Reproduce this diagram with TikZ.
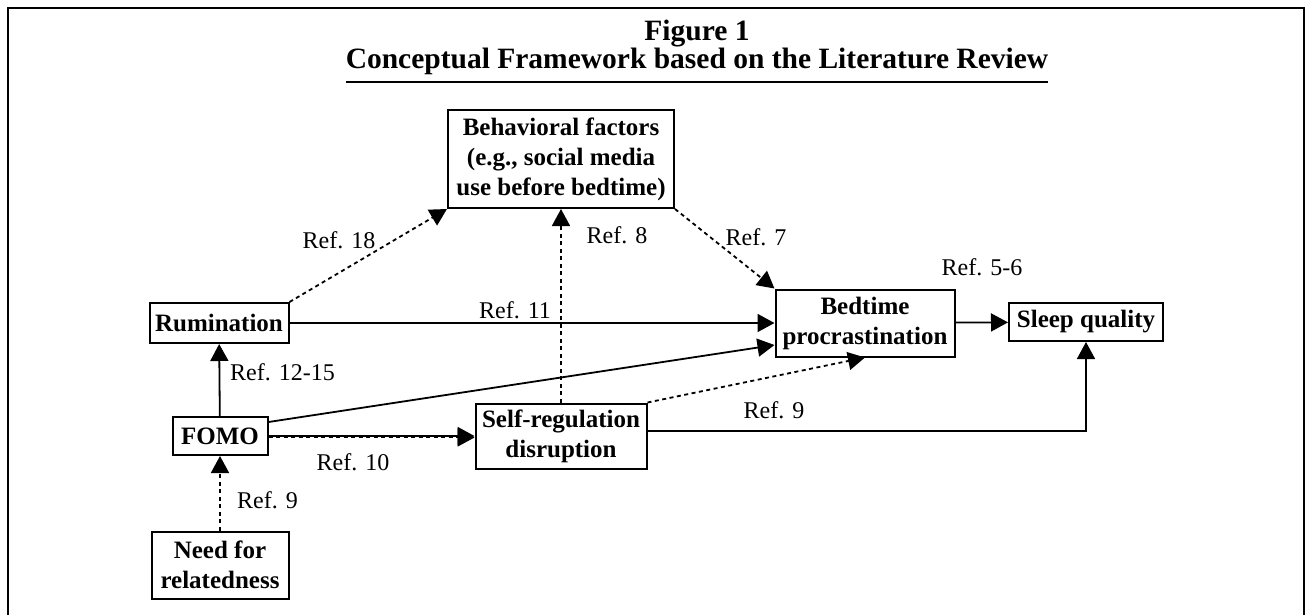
\documentclass[tikz,border=0pt]{standalone}
\usepackage{fontspec}
\setmainfont{Liberation Serif}
\usetikzlibrary{arrows.meta,calc}

\begin{document}
\begin{tikzpicture}[x=1pt,y=-1pt,
  box/.style={draw,line width=2pt,align=center,inner sep=0pt,font=\fontsize{25}{30}\selectfont\bfseries},
  reflabel/.style={inner sep=0pt,font=\fontsize{24}{30}\selectfont},
  arr/.style={line width=1.8pt,-{Triangle[length=17pt,width=18pt]}},
  dots/.style={arr,dash pattern=on 4pt off 3.5pt}]
\useasboundingbox (0,0) rectangle (1307,614);
\draw [line width=2pt] (8,640) -- (8,8) -- (1304,8) -- (1304,640);
\node [inner sep=0pt,align=center,font=\fontsize{29.5}{25}\selectfont\bfseries] (title) at (697,47) {Figure 1\\Conceptual Framework based on the Literature Review};
\draw [line width=2.5pt] (title.south west |- 0,82) -- (title.south east |- 0,82);
\node [box,minimum width=226,minimum height=98] (behav) at (561,159) {Behavioral factors\\(e.g., social media\\use before bedtime)};
\node [box,minimum width=139,minimum height=40] (rum) at (219,323) {Rumination};
\node [box,minimum width=95,minimum height=38] (fomo) at (220,436) {FOMO};
\node [box,minimum width=137,minimum height=67] (need) at (220,565) {Need for\\relatedness};
\node [box,minimum width=171,minimum height=65] (selfreg) at (561,436) {Self-regulation\\disruption};
\node [box,minimum width=179,minimum height=67] (bed) at (865,323) {Bedtime\\procrastination};
\node [box,minimum width=154,minimum height=38] (sleep) at (1086,322) {Sleep quality};
\draw [dots] (need) -- (fomo);
\draw [arr] (fomo) -- (rum);
\draw [arr] (rum) -- (bed);
\draw [dots] (rum.north east) -- (behav.south west);
\draw [dots] (selfreg) -- (behav);
\draw [dots] (behav.south east) -- (bed.north west);
\draw [arr] ($(fomo.east)+(0,-14)$) -- ($(bed.west)+(0,22)$);
\draw [arr] (fomo) -- (selfreg);
\draw [dots] ($(fomo.east)+(0,1.5)$) -- ($(selfreg.west)+(0,1.5)$);
\draw [dots] (selfreg.north east) -- (bed.south);
\draw [arr] ($(selfreg.east)+(0,-5)$) -| (sleep);
\draw [arr] (bed) -- (sleep);
\node [reflabel] (r18) at (339,240) {Ref. 18};
\node [reflabel] (r8) at (617,235) {Ref. 8};
\node [reflabel] (r7) at (756,237) {Ref. 7};
\node [reflabel] (r11) at (515,310) {Ref. 11};
\node [reflabel] (r56) at (982,267) {Ref. 5-6};
\node [reflabel,anchor=west] (r1215) at (230,372) {Ref. 12-15};
\node [reflabel,anchor=west] (r9a) at (237,500) {Ref. 9};
\node [reflabel] (r10) at (353,462) {Ref. 10};
\node [reflabel] (r9b) at (774,410) {Ref. 9};
\end{tikzpicture}
\end{document}
